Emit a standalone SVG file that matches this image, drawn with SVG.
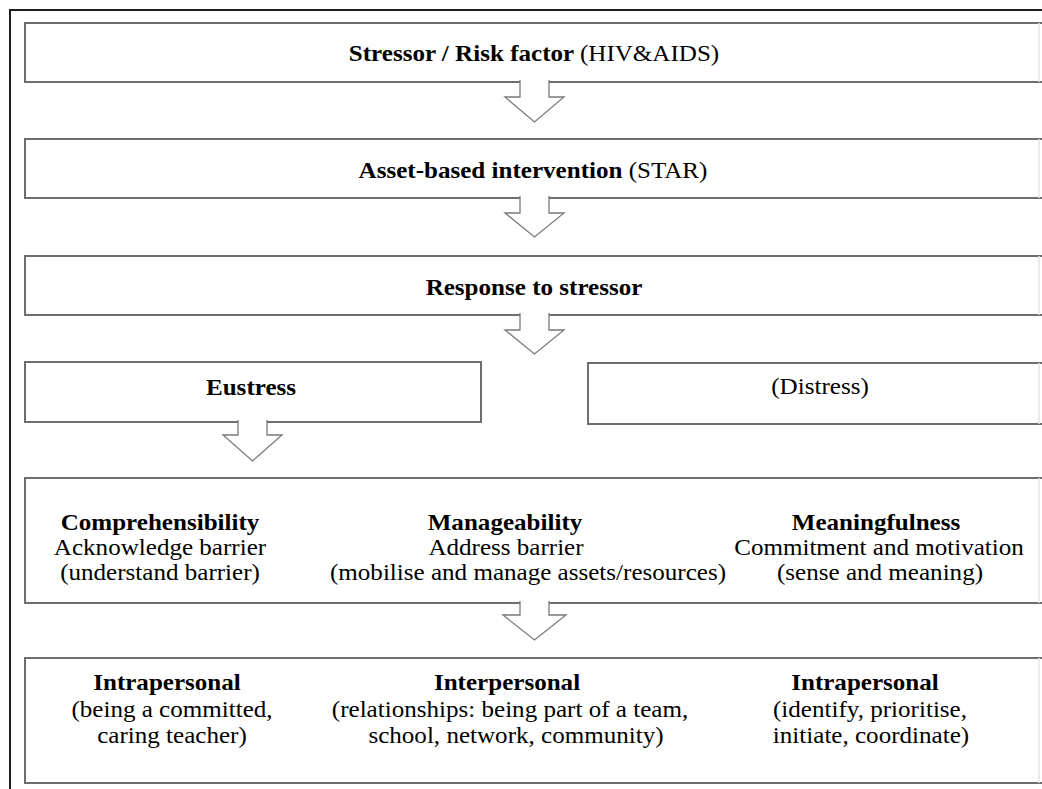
<svg xmlns="http://www.w3.org/2000/svg" width="1042" height="789" viewBox="0 0 1042 789">
<defs>
<style>
.frame{fill:none;stroke:#1e1e1e;stroke-width:2}
.box{fill:#fff;stroke:#6e6e6e;stroke-width:2}
.redge{fill:none;stroke:#e4e4e4;stroke-width:1.5}
.arrow{fill:#fff;stroke:#7a7a7a;stroke-width:1.3;stroke-linejoin:miter}
text{font-family:"Liberation Serif","Times New Roman",serif;font-size:24px;fill:#000;text-anchor:middle}
.b{font-weight:bold}
</style>
</defs>
<rect width="1042" height="789" fill="#fff"/>
<path class="frame" d="M10,789 V10 H1042"/>
<g id="stressor">
<rect class="box" x="25" y="23" width="1030" height="59"/>
<line class="redge" x1="1039" y1="23" x2="1039" y2="82"/>
<text transform="translate(534,61) scale(1.045,1)"><tspan class="b">Stressor / Risk factor </tspan>(HIV&amp;AIDS)</text>
</g>
<g id="intervention">
<rect class="box" x="25" y="139" width="1030" height="59"/>
<line class="redge" x1="1039" y1="139" x2="1039" y2="198"/>
<text transform="translate(533,178) scale(1.045,1)"><tspan class="b">Asset-based intervention </tspan>(STAR)</text>
</g>
<g id="response">
<rect class="box" x="25" y="256" width="1030" height="59"/>
<line class="redge" x1="1039" y1="256" x2="1039" y2="315"/>
<text class="b" transform="translate(534,295) scale(1.045,1)">Response to stressor</text>
</g>
<g id="eustress">
<rect class="box" x="25" y="362" width="456" height="60"/>
<text class="b" transform="translate(251,395) scale(1.045,1)">Eustress</text>
</g>
<g id="distress">
<rect class="box" x="588" y="363" width="470" height="61"/>
<line class="redge" x1="1039" y1="363" x2="1039" y2="424"/>
<text transform="translate(820,394) scale(1.045,1)">(Distress)</text>
</g>
<g id="sense-of-coherence">
<rect class="box" x="25" y="478" width="1030" height="125"/>
<line class="redge" x1="1039" y1="478" x2="1039" y2="603"/>
<text class="b" transform="translate(160,530) scale(1.045,1)">Comprehensibility</text>
<text transform="translate(160,555) scale(1.045,1)">Acknowledge barrier</text>
<text transform="translate(160,580) scale(1.045,1)">(understand barrier)</text>
<text class="b" transform="translate(505,530) scale(1.045,1)">Manageability</text>
<text transform="translate(506,555) scale(1.045,1)">Address barrier</text>
<text transform="translate(528,580) scale(1.045,1)">(mobilise and manage assets/resources)</text>
<text class="b" transform="translate(876,530) scale(1.045,1)">Meaningfulness</text>
<text transform="translate(879,555) scale(1.045,1)">Commitment and motivation</text>
<text transform="translate(880,580) scale(1.045,1)">(sense and meaning)</text>
</g>
<g id="levels">
<rect class="box" x="25" y="658" width="1030" height="125"/>
<line class="redge" x1="1039" y1="658" x2="1039" y2="783"/>
<text class="b" transform="translate(167,690) scale(1.045,1)">Intrapersonal</text>
<text transform="translate(172,717) scale(1.045,1)">(being a committed,</text>
<text transform="translate(172,743) scale(1.045,1)">caring teacher)</text>
<text class="b" transform="translate(507,690) scale(1.045,1)">Interpersonal</text>
<text transform="translate(510,717) scale(1.045,1)">(relationships: being part of a team,</text>
<text transform="translate(516,743) scale(1.045,1)">school, network, community)</text>
<text class="b" transform="translate(865,690) scale(1.045,1)">Intrapersonal</text>
<text transform="translate(870,717) scale(1.045,1)">(identify, prioritise,</text>
<text transform="translate(871,743) scale(1.045,1)">initiate, coordinate)</text>
</g>
<g id="connectors">
<path class="arrow" d="M520,80 V97 H505 L534.5,122 L564,97 H549 V80"/>
<path class="arrow" d="M520,196 V213 H505 L534.5,237 L564,213 H549 V196"/>
<path class="arrow" d="M520,313 V330 H505 L534.5,354 L564,330 H549 V313"/>
<path class="arrow" d="M238,420 V435 H223 L252.5,461 L282,435 H267 V420"/>
<path class="arrow" d="M520,601 V615 H503 L534.5,640 L566,615 H549 V601"/>
</g>
</svg>
